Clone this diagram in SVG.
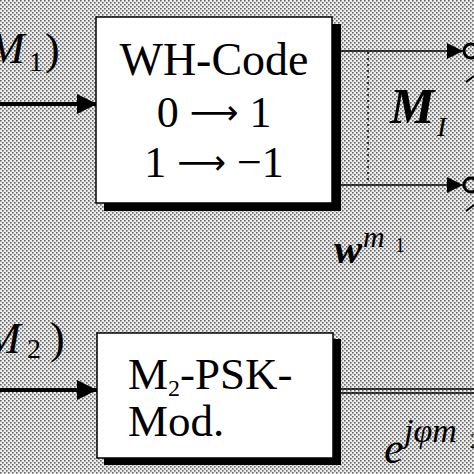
<svg xmlns="http://www.w3.org/2000/svg" width="474" height="474" viewBox="0 0 474 474">
<defs>
<pattern id="dots" width="4" height="4" patternUnits="userSpaceOnUse">
<rect width="4" height="4" fill="#ececec"/>
<rect x="0" y="0" width="1.6" height="1.6" fill="#6a6a6a"/>
<rect x="2" y="2" width="1.6" height="1.6" fill="#6a6a6a"/>
</pattern>
<marker id="ah" viewBox="0 0 20 20" refX="20" refY="10" markerWidth="20" markerHeight="20" markerUnits="userSpaceOnUse" orient="auto">
<path d="M0,0 L20,10 L0,20 Z" fill="#000"/>
</marker>
<marker id="ahs" viewBox="0 0 16 16" refX="16" refY="8" markerWidth="16" markerHeight="16" markerUnits="userSpaceOnUse" orient="auto">
<path d="M0,0 L16,8 L0,16 Z" fill="#000"/>
</marker>
</defs>
<style>
text{font-family:"Liberation Serif","Times New Roman",serif;fill:#000}
.it{font-style:italic}
.bi{font-style:italic;font-weight:bold}
.arr{font-family:"DejaVu Sans",sans-serif;font-size:34px}
.box{fill:#fff;stroke:#000;stroke-width:1.5}
.shadow{fill:#000}
.thick{stroke:#000;stroke-width:4;fill:none}
.thin{stroke:#000;stroke-width:1.5;fill:none}
</style>
<rect width="474" height="474" fill="url(#dots)"/>

<g id="connectors">
<line class="thick" x1="0" y1="104" x2="97" y2="104" marker-end="url(#ah)"/>
<line class="thick" x1="0" y1="390" x2="97" y2="390" marker-end="url(#ah)"/>
<line class="thin" x1="341" y1="51" x2="463" y2="51" marker-end="url(#ahs)"/>
<line class="thin" x1="341" y1="185" x2="463" y2="185" marker-end="url(#ahs)"/>
<line x1="368" y1="52" x2="368" y2="184" stroke="#000" stroke-width="1.5" stroke-dasharray="2,4"/>
<line x1="341" y1="389" x2="474" y2="389" stroke="#000" stroke-width="1.5"/>
<line x1="341" y1="393" x2="474" y2="393" stroke="#000" stroke-width="1.5"/>
<circle cx="471" cy="51" r="7" fill="none" stroke="#000" stroke-width="3"/>
<circle cx="471" cy="185" r="7" fill="none" stroke="#000" stroke-width="3"/>
<line x1="466" y1="82" x2="474" y2="76" stroke="#000" stroke-width="2"/>
<line x1="466" y1="211" x2="474" y2="205" stroke="#000" stroke-width="2"/>
</g>

<g id="wh-code">
<rect class="shadow" x="104" y="24" width="237" height="187"/>
<rect class="box" x="96" y="17" width="236" height="186"/>
<text x="214" y="75" font-size="46" text-anchor="middle">WH-Code</text>
<text x="214" y="127" font-size="44" text-anchor="middle">0 <tspan class="arr" dy="-3">⟶</tspan><tspan dy="3"> 1</tspan></text>
<text x="214" y="177" font-size="44" text-anchor="middle">1 <tspan class="arr" dy="-3">⟶</tspan><tspan dy="3"> −1</tspan></text>
</g>

<g id="psk-mod">
<rect class="shadow" x="104" y="339" width="237" height="126"/>
<rect class="box" x="97" y="333" width="236" height="125"/>
<text x="128" y="389" font-size="45">M<tspan font-size="24" dy="7">2</tspan><tspan dy="-7">-PSK-</tspan></text>
<text x="128" y="436" font-size="45">Mod.</text>
</g>

<g id="labels">
<text x="-12" y="63" font-size="44" class="it">M</text>
<text x="29" y="71" font-size="28">1</text>
<text x="45" y="64" font-size="44">)</text>
<text x="-16" y="353" font-size="44" class="it">M</text>
<text x="27" y="358" font-size="28">2</text>
<text x="50" y="353" font-size="44">)</text>
<text x="390" y="123" font-size="50" class="bi">M</text>
<text x="437" y="136" font-size="28" class="it">I</text>
<text x="334" y="263" font-size="42" class="bi">w</text>
<text x="363" y="247" font-size="30" class="it">m</text>
<text x="395" y="252" font-size="20">1</text>
<text x="384" y="463" font-size="44" class="it">e</text>
<text x="404" y="442" font-size="34" class="it">jφm</text>
<text x="470" y="448" font-size="22">2</text>
</g>
</svg>
